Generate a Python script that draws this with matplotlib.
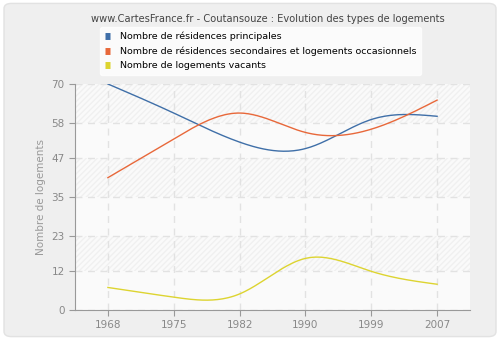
import matplotlib.pyplot as plt
import numpy as np
from matplotlib.patches import FancyBboxPatch

years = ['1968', '1975', '1982', '1990', '1999', '2007']
principales = [70, 61, 52, 50, 59, 60]
secondaires = [41, 53, 61, 55, 56, 65]
vacants = [7, 4, 5, 16, 12, 8]

yticks = [0, 12, 23, 35, 47, 58, 70]
labels = ['Nombre de résidences principales',
          'Nombre de résidences secondaires et logements occasionnels',
          'Nombre de logements vacants']
colors = ['#3f6fa8', '#e8683a', '#ddd430']


def natural_spline(xs, ys, steps=40):
    # natural cubic spline through the points, sampled for drawing
    xs = np.asarray(xs, float)
    ys = np.asarray(ys, float)
    n = len(xs)
    h = np.diff(xs)
    A = np.zeros((n, n))
    r = np.zeros(n)
    A[0, 0] = A[-1, -1] = 1
    for i in range(1, n - 1):
        A[i, i - 1] = h[i - 1]
        A[i, i] = 2 * (h[i - 1] + h[i])
        A[i, i + 1] = h[i]
        r[i] = 6 * ((ys[i + 1] - ys[i]) / h[i] - (ys[i] - ys[i - 1]) / h[i - 1])
    m = np.linalg.solve(A, r)
    px, py = [], []
    for i in range(n - 1):
        t = np.linspace(xs[i], xs[i + 1], steps)
        a = xs[i + 1] - t
        b = t - xs[i]
        s = (m[i] * a ** 3 + m[i + 1] * b ** 3) / (6 * h[i]) \
            + (ys[i] / h[i] - m[i] * h[i] / 6) * a + (ys[i + 1] / h[i] - m[i + 1] * h[i] / 6) * b
        px.extend(t)
        py.extend(s)
    return px, py


fig = plt.figure(figsize=(5, 3.4), dpi=100)
fig.patch.set_facecolor('white')
bg = FancyBboxPatch((0.008, 0.01), 0.984, 0.98, boxstyle='round,pad=0,rounding_size=0.015',
                    transform=fig.transFigure, facecolor='#efefef', edgecolor='#e2e2e2',
                    linewidth=1, zorder=-10)
fig.patches.append(bg)

ax = fig.add_axes([0.15, 0.088, 0.79, 0.665])
ax.set_facecolor('#fafafa')
ax.patch.set_hatch('//////')
ax.patch.set_edgecolor('#f0f0f0')
ax.patch.set_linewidth(0)
# lighter alternate bands
for lo, hi in zip(yticks[0::2], yticks[1::2]):
    ax.axhspan(lo, hi, facecolor='#fafafa', edgecolor='none', zorder=0.5)

x = np.arange(len(years))
for vals, c, lab in zip([principales, secondaires, vacants], colors, labels):
    sx, sy = natural_spline(x, vals)
    ax.plot(sx, sy, color=c, linewidth=1.0, label=lab, zorder=3)

ax.set_xlim(-0.5, 5.5)
ax.set_ylim(0, 70)
ax.set_xticks(x)
ax.set_xticklabels(years)
ax.set_yticks(yticks)
ax.grid(True, color='#e2e2e2', linestyle=(0, (5, 4)), linewidth=1, zorder=1)
ax.set_axisbelow(True)
for s in ['top', 'right']:
    ax.spines[s].set_visible(False)
for s in ['left', 'bottom']:
    ax.spines[s].set_color('#999999')
ax.tick_params(colors='#999999', labelcolor='#888888', labelsize=7.5, length=4)
ax.set_ylabel('Nombre de logements', color='#999999', fontsize=7.5)

fig.text(0.535, 0.945, 'www.CartesFrance.fr - Coutansouze : Evolution des types de logements',
         ha='center', va='center', fontsize=7.1, color='#444444')

leg = fig.legend(*ax.get_legend_handles_labels(), loc='upper left', bbox_to_anchor=(0.2, 0.92),
                 fontsize=6.8, frameon=True, fancybox=True, handlelength=0.6, handleheight=0.6,
                 handletextpad=1.0, borderpad=0.5, labelspacing=0.55, borderaxespad=0)
leg.get_frame().set_facecolor('white')
leg.get_frame().set_edgecolor('white')
for h, c in zip(leg.legend_handles, colors):
    h.set_linewidth(5)
    h.set_solid_capstyle('butt')

fig.savefig('out.png', dpi=100)
